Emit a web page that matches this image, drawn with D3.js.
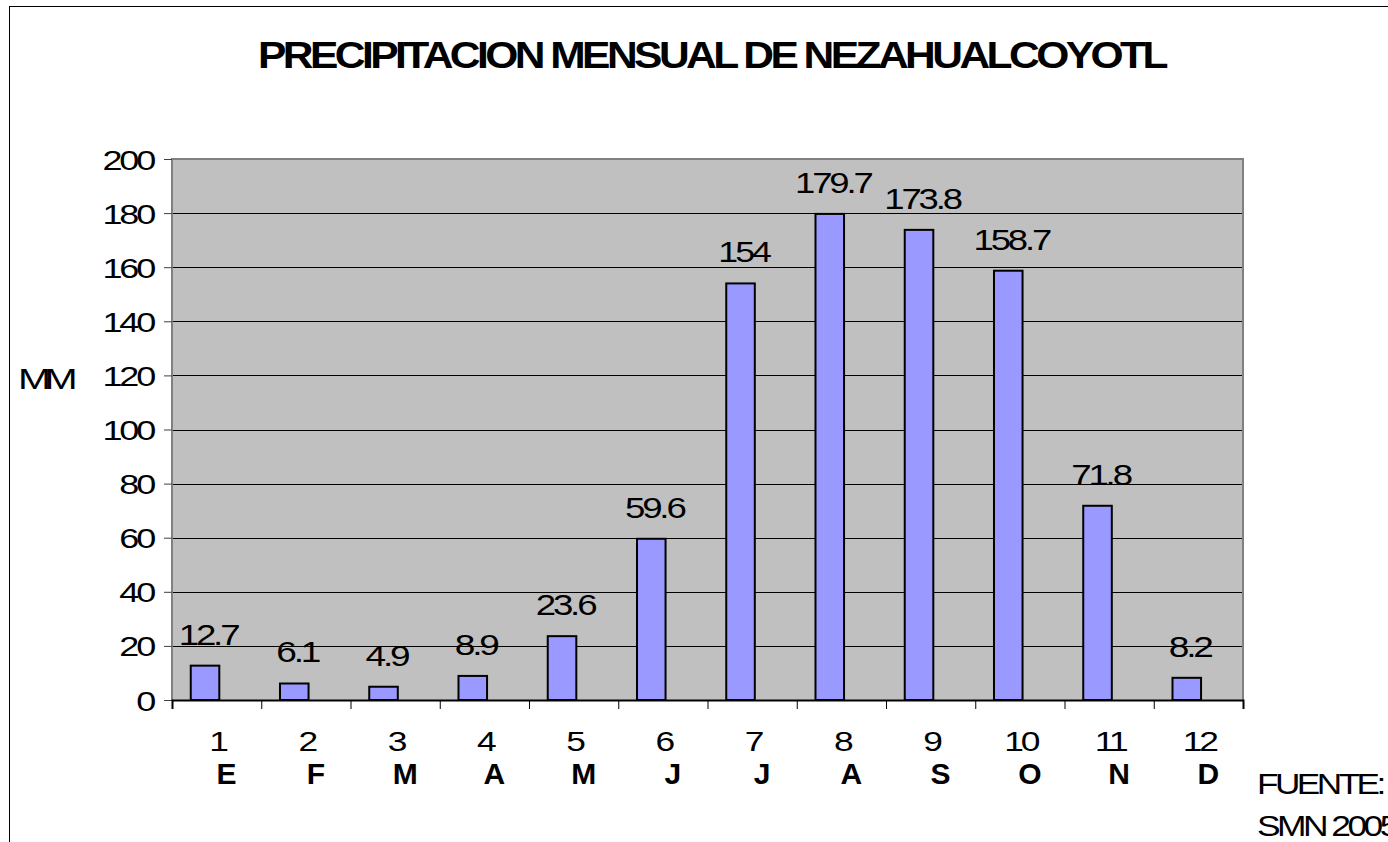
<!DOCTYPE html>
<html><head><meta charset="utf-8">
<script src="https://cdn.jsdelivr.net/npm/d3@7"></script>
<style>
html,body{margin:0;padding:0;background:#fff;overflow:hidden}
text{font-family:"Liberation Sans",Arial,sans-serif;fill:#000}
</style></head>
<body>
<svg id="c" width="1388" height="842"></svg>
<script>
const months = ["1","2","3","4","5","6","7","8","9","10","11","12"];
const monthLetters = ["E","F","M","A","M","J","J","A","S","O","N","D"];
const values = [12.7,6.1,4.9,8.9,23.6,59.6,154,179.7,173.8,158.7,71.8,8.2];
const yTicks = [0,20,40,60,80,100,120,140,160,180,200];
const title = "PRECIPITACION MENSUAL DE NEZAHUALCOYOTL";
const yTitle = "MM";
const source = ["FUENTE:", "SMN 2005"];

const svg = d3.select("#c");
const L = 172, R = 1243, T = 159, B = 700;

function fit(sel, factor, ls) {
  sel.each(function(){
    const t = d3.select(this);
    const w0 = this.getComputedTextLength();
    t.style("letter-spacing", ls + "px");
    t.attr("textLength", w0 * factor).attr("lengthAdjust", "spacingAndGlyphs");
  });
}

svg.append("rect").attr("x", 9.5).attr("y", 6.5).attr("width", 1500).attr("height", 900)
  .attr("fill", "none").attr("stroke", "#000").attr("stroke-width", 1);

const x = d3.scaleBand().domain(months).range([L, R]).paddingInner(0).paddingOuter(0);
const xb = d3.scaleLinear().domain([0, months.length]).range([L, R]);
const y = d3.scaleLinear().domain([0, 200]).range([B, T]);

svg.append("rect").attr("x", L).attr("y", T).attr("width", R - L).attr("height", B - T)
  .attr("fill", "#c0c0c0");

svg.append("g").selectAll("line").data(yTicks.filter(d => d > 0 && d < 200)).join("line")
  .attr("x1", L).attr("x2", R).attr("y1", d => Math.round(y(d)) + 0.5).attr("y2", d => Math.round(y(d)) + 0.5)
  .attr("stroke", "#000").attr("stroke-width", 1);

svg.append("path").attr("d", `M${L},${B}V${T}H${R}V${B}`).attr("fill", "none")
  .attr("stroke", "#808080").attr("stroke-width", 2);

const bw = x.bandwidth();
svg.append("g").selectAll("rect").data(values).join("rect")
  .attr("x", (d, i) => x(months[i]) + bw * 0.21)
  .attr("width", bw * 0.32)
  .attr("y", d => y(d))
  .attr("height", d => B - y(d))
  .attr("fill", "#9999ff").attr("stroke", "#000").attr("stroke-width", 2);

svg.append("g").selectAll("text").data(values).join("text")
  .attr("x", (d, i) => x(months[i]) + bw * 0.37 + 3)
  .attr("y", d => y(d) - 21)
  .attr("text-anchor", "middle")
  .style("font-size", "29px")
  .text(d => String(d))
  .call(fit, 1.04, -2.5);

const ya = svg.append("g").attr("transform", `translate(${L},0)`)
  .call(d3.axisLeft(y).tickValues(yTicks).tickSize(8).tickPadding(11).tickFormat(d3.format("d")));
ya.select(".domain").remove();
ya.selectAll("line").attr("stroke", "#404040");
ya.selectAll("text").style("font-size", "28px").attr("dy", "0.36em").call(fit, 1.08, -2.5);

const xa = svg.append("g").attr("transform", `translate(0,${B})`)
  .call(d3.axisBottom(xb).tickValues(d3.range(0, months.length + 1)).tickSize(9).tickFormat(""));
xa.select(".domain").attr("stroke", "#000").attr("stroke-width", 2);
xa.selectAll("line").attr("stroke", "#000");

svg.append("g").selectAll("text").data(months).join("text")
  .attr("x", d => x(d) + bw / 2 + 1).attr("y", 751)
  .attr("text-anchor", "middle").style("font-size", "28px")
  .text(d => d).call(fit, 1.06, -2.5);

svg.append("g").selectAll("text").data(monthLetters).join("text")
  .attr("x", (d, i) => x(months[i]) + bw / 2 + 10).attr("y", 784)
  .attr("text-anchor", "middle").style("font-size", "30px").style("font-weight", "bold")
  .text(d => d);

svg.append("text").attr("x", 711.5).attr("y", 68).attr("text-anchor", "middle")
  .style("font-size", "36px").style("font-weight", "bold").style("letter-spacing", "-3px")
  .attr("textLength", 907).attr("lengthAdjust", "spacingAndGlyphs")
  .text(title);

svg.append("text").attr("x", 18).attr("y", 389).style("font-size", "30px")
  .style("letter-spacing", "-5px")
  .attr("textLength", 53).attr("lengthAdjust", "spacingAndGlyphs")
  .text(yTitle);

svg.append("g").selectAll("text").data(source).join("text")
  .attr("x", 1257).attr("y", (d, i) => 794 + i * 42)
  .style("font-size", "30px")
  .text(d => d).call(fit, 0.98, -3);
</script>
</body></html>
